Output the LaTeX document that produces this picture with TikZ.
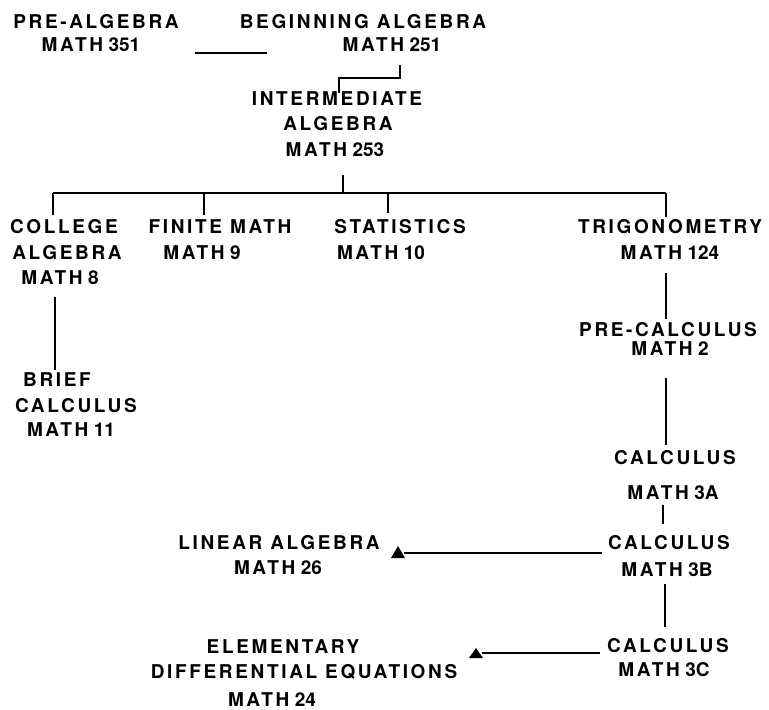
\documentclass[tikz,border=0pt]{standalone}
\usepackage{fontspec}
\usetikzlibrary{calc}
\setmainfont{TeX Gyre Heros}
\newfontfamily\lsfont[LetterSpace=14]{TeX Gyre Heros}
\newfontfamily\numfont{TeX Gyre Heros}
\newcommand\mth[1]{MATH{\numfont\bfseries\hspace{5.5pt}#1}}
\begin{document}
\begin{tikzpicture}[x=1pt,y=-1pt,
  lbl/.style={inner sep=0pt,anchor=base,font=\lsfont\bfseries\fontsize{19}{21}\selectfont},
  conn/.style={line width=2.2pt},
  tri/.style={fill=black}]
\useasboundingbox (0,0) rectangle (769,710);
% text (base y = cap centre + 6.8)
\node[lbl] (pa1) at (96,28.8) {PRE-ALGEBRA};
\node[lbl] (pa2) at (91,51.8) {\mth{351}};
\node[lbl] (ba1) at (363,28.8) {BEGINNING ALGEBRA};
\node[lbl] (ba2) at (392,51.8) {\mth{251}};
\node[lbl] (ia1) at (337,105.8) {INTERMEDIATE};
\node[lbl] (ia2) at (338,130.8) {ALGEBRA};
\node[lbl] (ia3) at (335,156.8) {\mth{253}};
\node[lbl] (ca1) at (64,233.8) {COLLEGE};
\node[lbl] (ca2) at (67,259.8) {ALGEBRA};
\node[lbl] (ca3) at (60,284.8) {\mth{8}};
\node[lbl] (fm1) at (220,233.8) {FINITE MATH};
\node[lbl] (fm2) at (202,259.8) {\mth{9}};
\node[lbl] (st1) at (400,233.8) {STATISTICS};
\node[lbl] (st2) at (381,259.8) {\mth{10}};
\node[lbl] (tr1) at (670,233.8) {TRIGONOMETRY};
\node[lbl] (tr2) at (670,259.8) {\mth{124}};
\node[lbl] (bc1) at (57,386.8) {BRIEF};
\node[lbl] (bc2) at (76,412.8) {CALCULUS};
\node[lbl] (bc3) at (71,436.8) {\mth{11}};
\node[lbl] (pc1) at (668,336.8) {PRE-CALCULUS};
\node[lbl] (pc2) at (670,355.8) {\mth{2}};
\node[lbl] (c3a1) at (675,464.8) {CALCULUS};
\node[lbl] (c3a2) at (673,499.8) {\mth{3A}};
\node[lbl] (c3b1) at (669,549.8) {CALCULUS};
\node[lbl] (c3b2) at (667,576.8) {\mth{3B}};
\node[lbl] (la1) at (279,549.8) {LINEAR ALGEBRA};
\node[lbl] (la2) at (278,574.8) {\mth{26}};
\node[lbl] (c3c1) at (668,652.8) {CALCULUS};
\node[lbl] (c3c2) at (664,676.8) {\mth{3C}};
\node[lbl] (de1) at (283,653.8) {ELEMENTARY};
\node[lbl] (de2) at (304,678.8) {DIFFERENTIAL EQUATIONS};
\node[lbl] (de3) at (272,706) {\mth{24}};
% connector end points
\coordinate (paR) at (195,53);
\coordinate (baL) at (267,53);
\coordinate (baB) at (400,65);
\coordinate (iaT) at (339,93);
\coordinate (iaB) at (343,175);
\coordinate (bus) at (343,193);
\coordinate (caT) at (53,215);
\coordinate (fmT) at (204,215);
\coordinate (stT) at (388,213);
\coordinate (trT) at (666,217);
\coordinate (caB) at (55,297);
\coordinate (bcT) at (55,370);
\coordinate (trB) at (666,273);
\coordinate (pcT) at (666,319);
\coordinate (pcB) at (666,378);
\coordinate (c3aT) at (666,445);
\coordinate (c3aB) at (663,505);
\coordinate (c3bT) at (663,524);
\coordinate (c3bL) at (602,553);
\coordinate (laR) at (398,553);
\coordinate (c3bB) at (665,584);
\coordinate (c3cT) at (665,627);
\coordinate (c3cL) at (600,653);
\coordinate (deR) at (476,653);
% connectors
\draw[conn] (paR) -- (baL);
\draw[conn] (baB) -- (baB|-0,78) -- (iaT|-0,78) -- (iaT);
\draw[conn] (iaB) -- (bus);
\draw[conn] (caT|-bus) -- (trT|-bus);
\draw[conn] (caT|-bus) -- (caT);
\draw[conn] (fmT|-bus) -- (fmT);
\draw[conn] (stT|-bus) -- (stT);
\draw[conn] (trT|-bus) -- (trT);
\draw[conn] (caB) -- (bcT);
\draw[conn] (trB) -- (pcT);
\draw[conn] (pcB) -- (c3aT);
\draw[conn] (c3aB) -- (c3bT);
\draw[conn] (c3bL) -- ($(laR)+(6,0)$);
\fill[tri] ($(laR)+(0,-7)$) -- ($(laR)+(7,5)$) -- ($(laR)+(-7,5)$) -- cycle;
\draw[conn] (c3bB) -- (c3cT);
\draw[conn] (c3cL) -- ($(deR)+(6,0)$);
\fill[tri] ($(deR)+(0,-5)$) -- ($(deR)+(7,5)$) -- ($(deR)+(-7,5)$) -- cycle;
\end{tikzpicture}
\end{document}
